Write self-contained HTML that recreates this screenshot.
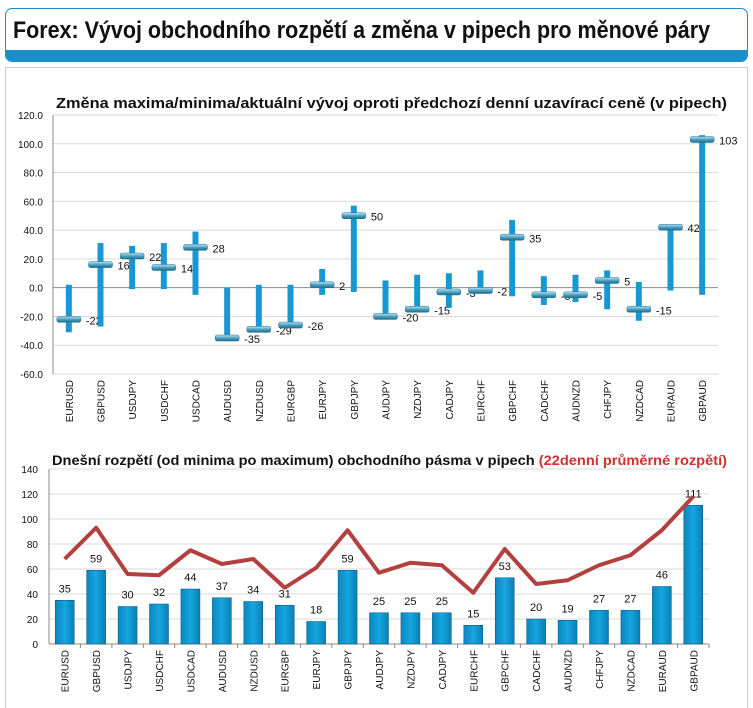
<!DOCTYPE html>
<html><head><meta charset="utf-8">
<style>
body{margin:0;width:753px;height:698px;background:#fff;font-family:"Liberation Sans",sans-serif;overflow:hidden;position:relative}
#hdr{position:absolute;left:5px;top:8px;width:741px;height:52px;border:1px solid #1a8cc8;border-radius:7px;overflow:hidden;background:#fff}
#hdr .bar{position:absolute;left:0;right:0;bottom:0;height:11px;background:#1a8fcc}
#hdr .t{position:absolute;left:7px;top:8px;font-weight:bold;font-size:24px;color:#111;transform:scaleX(0.895);transform-origin:left top;white-space:nowrap}
#panel{position:absolute;left:5px;top:67px;width:741px;height:640px;border:1px solid #ccc;border-bottom:none;background:#fff}
svg{position:absolute;left:0;top:0}
</style></head><body>
<div id="hdr"><div class="t">Forex: Vývoj obchodního rozpětí a změna v pipech pro měnové páry</div><div class="bar"></div></div>
<div id="panel"></div>
<svg id="s" width="753" height="698">
<defs>
<linearGradient id="mk" x1="0" y1="0" x2="0" y2="1"><stop offset="0" stop-color="#bfe3f0"/><stop offset="0.5" stop-color="#4aa3c4"/><stop offset="1" stop-color="#1d6a8a"/></linearGradient>
<linearGradient id="bg" x1="0" y1="0" x2="1" y2="0"><stop offset="0" stop-color="#0a86bf"/><stop offset="0.5" stop-color="#16a6e0"/><stop offset="1" stop-color="#0a7fb5"/></linearGradient>
</defs>
<text x="56" y="108" font-size="15" font-weight="bold" fill="#111" textLength="671" lengthAdjust="spacingAndGlyphs">Změna maxima/minima/aktuální vývoj oproti předchozí denní uzavírací ceně (v pipech)</text>
<text x="52" y="465" font-size="14" font-weight="bold" fill="#111" textLength="675" lengthAdjust="spacingAndGlyphs">Dnešní rozpětí (od minima po maximum) obchodního pásma v pipech <tspan fill="#d03030">(22denní průměrné rozpětí)</tspan></text>
</svg>
<script>
const cats=["EURUSD","GBPUSD","USDJPY","USDCHF","USDCAD","AUDUSD","NZDUSD","EURGBP","EURJPY","GBPJPY","AUDJPY","NZDJPY","CADJPY","EURCHF","GBPCHF","CADCHF","AUDNZD","CHFJPY","NZDCAD","EURAUD","GBPAUD"];
const highs=[2,31,29,31,39,0,2,2,13,57,5,9,10,12,47,8,9,12,4,42,106];
const lows=[-31,-27,-1,-1,-5,-35,-30,-27,-5,-3,-20,-15,-14,-1,-6,-12,-10,-15,-23,-2,-5];
const current=[-22,16,22,14,28,-35,-29,-26,2,50,-20,-15,-3,-2,35,-5,-5,5,-15,42,103];
const topTicks=[120,100,80,60,40,20,0,-20,-40,-60];
const ranges=[35,59,30,32,44,37,34,31,18,59,25,25,25,15,53,20,19,27,27,46,111];
const avgRanges=[68,93,56,55,75,64,68,45,61,91,57,65,63,41,76,48,51,63,71,91,118];
const botTicks=[0,20,40,60,80,100,120,140];

const S=document.getElementById('s'),NS="http://www.w3.org/2000/svg";
function mk(t,a,p){const e=document.createElementNS(NS,t);for(const k in a)e.setAttribute(k,a[k]);(p||S).appendChild(e);return e;}
const tL=53,tR=718,tTop=115,tBot=374,tMin=-60,tMax=120;
const ty=v=>tBot-(v-tMin)/(tMax-tMin)*(tBot-tTop);
const tw=(tR-tL)/cats.length, tx=i=>tL+tw*(i+0.5);
topTicks.forEach(v=>{
  const g=mk('line',{x1:tL,x2:tR,y1:ty(v),y2:ty(v),stroke:v===0?'#888':'#d9d9d9','stroke-width':1});
  
  
  const t=mk('text',{x:tL-10,y:ty(v)+4,'font-size':10,'text-anchor':'end',fill:'#111'});
  t.textContent=v.toFixed(1);
  
  
});
mk('line',{x1:tL,x2:tL,y1:tTop,y2:tBot,stroke:'#888'});
cats.forEach((c,i)=>{
  const x=tx(i);
  const r=mk('rect',{x:x-3,y:ty(highs[i]),width:6,height:ty(lows[i])-ty(highs[i]),fill:'#1898d2'});
  
  
  const m=mk('rect',{x:x-12,y:ty(current[i])-3,width:24,height:6,rx:2,fill:'url(#mk)',stroke:'#2a7090','stroke-width':0.5});
  
  
  const l=mk('text',{x:x+17,y:ty(current[i])+5,'font-size':11,fill:'#111'});
  l.textContent=current[i];
  
  
  const xl=mk('text',{x:0,y:0,'font-size':10,'text-anchor':'end',fill:'#111',transform:`translate(${x+4},${tBot+6}) rotate(-90)`});
  xl.textContent=c;
  
  
});
const bL=49,bR=709,bTop=469,bBot=644,bMax=140;
const by=v=>bBot-v/bMax*(bBot-bTop);
const bw=(bR-bL)/cats.length, bx=i=>bL+bw*(i+0.5);
botTicks.forEach(v=>{
  const g=mk('line',{x1:bL,x2:bR,y1:by(v),y2:by(v),stroke:v===0?'#888':'#d9d9d9'});
  
  
  const t=mk('text',{x:bL-11,y:by(v)+4,'font-size':10,'text-anchor':'end',fill:'#111'});
  t.textContent=v;
  
  
});
mk('line',{x1:bL,x2:bL,y1:bTop,y2:bBot,stroke:'#888'});
cats.forEach((c,i)=>{
  const x=bx(i);
  const r=mk('rect',{x:x-9.5,y:by(ranges[i]),width:19,height:by(0)-by(ranges[i]),fill:'url(#bg)',stroke:'#06547a','stroke-width':0.5});
  
  
  const l=mk('text',{x:x,y:by(ranges[i])-8,'font-size':11,'text-anchor':'middle',fill:'#111'});
  l.textContent=ranges[i];
  
  
  mk('line',{x1:bL+bw*(i+1),x2:bL+bw*(i+1),y1:bBot,y2:bBot+4,stroke:'#888'});
  const xl=mk('text',{x:0,y:0,'font-size':10,'text-anchor':'end',fill:'#111',transform:`translate(${x+4},${bBot+6}) rotate(-90)`});
  xl.textContent=c;
  
  
});
const pts=avgRanges.map((v,i)=>bx(i)+','+by(v)).join(' ');
const pl=mk('polyline',{points:pts,fill:'none',stroke:'#b33f3f','stroke-width':4,'stroke-linejoin':'round'});


</script>
</body></html>
